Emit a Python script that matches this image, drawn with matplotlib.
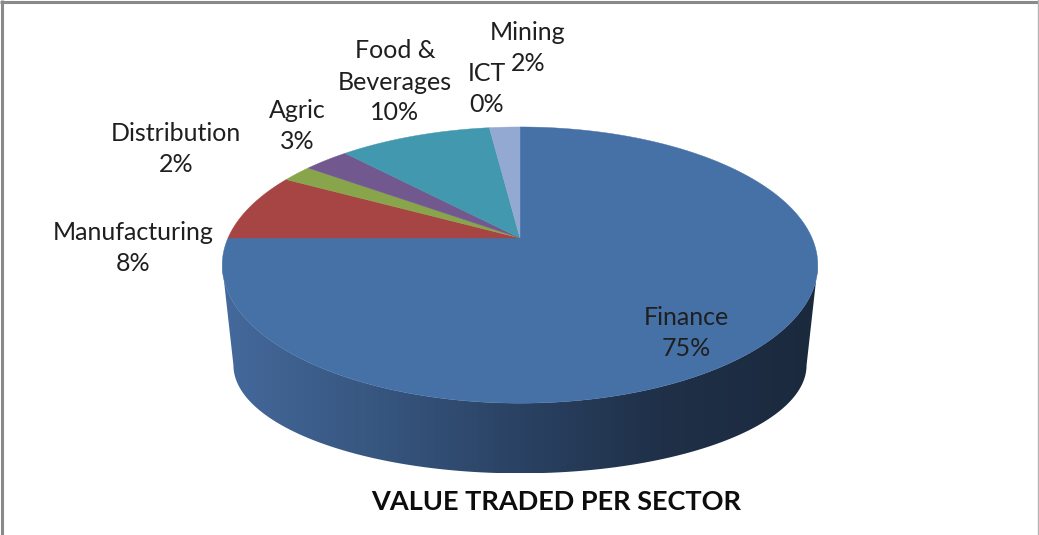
import numpy as np
import matplotlib
matplotlib.use("Agg")
import matplotlib.pyplot as plt
from matplotlib.patches import Polygon
from matplotlib.colors import LinearSegmentedColormap

# ---- data ----
sectors = ["Finance", "Manufacturing", "Distribution", "Agric",
           "Food &\nBeverages", "ICT", "Mining"]
shares = [75, 8, 2, 3, 10, 0, 2]
colors = ["#4571a6", "#a64543", "#89a54c", "#71598f", "#4298ae", "#8ea8d0", "#94a9d1"]
title = "VALUE TRADED PER SECTOR"

# ---- layout (pixel space) ----
W, H = 1039, 535
cx = 520
top = dict(cy=238, rx=292, ry=132.8, k=0.196)
bot = dict(cy=344, rx=281, ry=104, k=0.196)
label_pos = [(686, 333), (133, 248), (176, 149), (297, 126),
             (395, 82), (487, 89), (528, 48)]
line_gap = 31

def proj(theta_deg, cy, rx, ry, k):
    t = np.radians(theta_deg)
    u, v = np.cos(t), np.sin(t)
    p = 1.0 / (1.0 + k * v)
    return cx + rx * u * p, cy - ry * v * p

fig = plt.figure(figsize=(W / 100, H / 100), dpi=100)
ax = fig.add_axes([0, 0, 1, 1])
ax.set_xlim(0, W)
ax.set_ylim(H, 0)
ax.axis("off")

# ---- side wall (only the front, Finance is visible) ----
a = np.degrees(np.arcsin(top["k"]))
th = np.linspace(180 + a, 360 - a, 300)
xt, yt = proj(th, **top)
xb, yb = proj(th[::-1], **bot)
side_xy = np.column_stack([np.concatenate([xt, xb]), np.concatenate([yt, yb])])
side = Polygon(side_xy, closed=True, facecolor="none", edgecolor="none", zorder=1)
ax.add_patch(side)
cmap = LinearSegmentedColormap.from_list(
    "side", [(0.0, "#44699c"), (0.26, "#37567f"), (0.5, "#2a4263"),
             (0.74, "#1f3048"), (1.0, "#1b293d")])
x0, x1 = side_xy[:, 0].min(), side_xy[:, 0].max()
y0, y1 = side_xy[:, 1].min(), side_xy[:, 1].max()
grad = np.linspace(0, 1, 512).reshape(1, -1)
im = ax.imshow(grad, extent=[x0, x1, y1, y0], cmap=cmap, aspect="auto",
               interpolation="bilinear", zorder=1)
im.set_clip_path(side)

# ---- top face wedges ----
total = float(sum(shares))
cum = np.concatenate([[0], np.cumsum(shares)]) / total * 360.0
for i, (s, c) in enumerate(zip(shares, colors)):
    if s <= 0:
        continue
    t0, t1 = 90 - cum[i], 90 - cum[i + 1]
    tt = np.linspace(t0, t1, max(int(abs(t1 - t0) * 2), 4))
    xa, ya = proj(tt, **top)
    xy = np.column_stack([np.concatenate([[cx], xa]), np.concatenate([[top["cy"]], ya])])
    ax.add_patch(Polygon(xy, closed=True, facecolor=c, edgecolor=c, lw=0.3, zorder=2))

ax.set_xlim(0, W)
ax.set_ylim(H, 0)

# ---- labels (one text per line) ----
for name, s, (lx, ly) in zip(sectors, shares, label_pos):
    lines = f"{name}\n{s}%".split("\n")
    n = len(lines)
    for j, line in enumerate(lines):
        ax.text(lx, ly + (j - (n - 1) / 2) * line_gap, line, ha="center",
                va="center", fontsize=18, family="Lato", color="#1f1f1f", zorder=5)

ax.text(556, 502, title, ha="center", va="center", fontsize=19.5,
        fontweight="bold", family="Lato", color="#0d0d0d", zorder=5)

# ---- chart border ----
ax.plot([1.5, 1.5], [0, H], color="#8a8a8a", lw=2.2, solid_capstyle="butt", zorder=6)
ax.plot([0, 1038], [1.5, 1.5], color="#8a8a8a", lw=2.2, solid_capstyle="butt", zorder=6)
ax.plot([1037.5, 1037.5], [0, H], color="#b3b3b3", lw=1.0, zorder=6)

fig.savefig("out.png", dpi=100)
